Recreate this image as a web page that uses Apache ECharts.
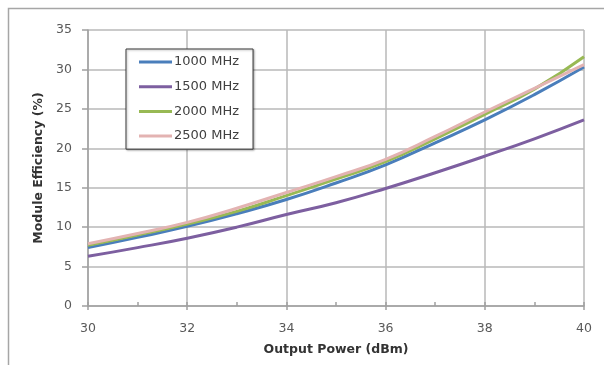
<!DOCTYPE html>
<html><head><meta charset="utf-8">
<script src="https://cdn.jsdelivr.net/npm/echarts@6/dist/echarts.min.js"></script>
<style>html,body{margin:0;padding:0;background:#fff}#c{width:604px;height:365px}</style>
</head><body><div id="c"></div>
<script>
const xValues = [30, 31, 32, 33, 34, 35, 36, 37, 38, 39, 40];
const s1000 = [7.4, 8.7, 10.1, 11.7, 13.5, 15.6, 17.9, 20.7, 23.6, 26.8, 30.3];
const s1500 = [6.3, 7.4, 8.6, 10.0, 11.6, 13.1, 14.9, 16.9, 19.0, 21.2, 23.6];
const s2000 = [7.7, 9.0, 10.4, 12.0, 14.0, 16.1, 18.3, 21.2, 24.3, 27.5, 31.6];
const s2500 = [7.9, 9.2, 10.6, 12.4, 14.4, 16.4, 18.6, 21.5, 24.6, 27.6, 30.6];
const seriesNames = ['1000 MHz', '1500 MHz', '2000 MHz', '2500 MHz'];
const seriesColors = ['#4a7ebb', '#7d5fa0', '#98b954', '#e3b3b2'];
const seriesData = [s1000, s1500, s2000, s2500];
const xTitle = 'Output Power (dBm)';
const yTitle = 'Module Efficiency (%)';

const font = 'DejaVu Sans';
const chart = echarts.init(document.getElementById('c'), null, {renderer: 'canvas'});
chart.setOption({
  animation: false,
  backgroundColor: '#fff',
  textStyle: {fontFamily: font},
  graphic: [{
    type: 'rect', shape: {x: 8.5, y: 8.5, width: 620, height: 380},
    style: {fill: 'none', stroke: '#a6a6a6', lineWidth: 1.5}, z: -10
  }],
  grid: {left: 88, right: 20, top: 30, bottom: 59, containLabel: false},
  legend: {
    left: 126, top: 49, orient: 'vertical',
    padding: [6.5, 14, 6.5, 13],
    backgroundColor: '#fff',
    borderColor: '#3a3a3a', borderWidth: 1,
    shadowColor: 'rgba(0,0,0,0.3)', shadowBlur: 2, shadowOffsetX: 1, shadowOffsetY: 1,
    itemWidth: 33, itemHeight: 3, itemGap: 11.7,
    icon: 'rect',
    textStyle: {fontFamily: font, fontSize: 13, color: '#404040', padding: [0, 0, 0, -3]},
    data: seriesNames
  },
  xAxis: [{
    type: 'value', min: 30, max: 40, interval: 2,
    name: xTitle, nameLocation: 'middle', nameGap: 37,
    nameTextStyle: {fontFamily: font, fontSize: 12.5, fontWeight: 'bold', color: '#333'},
    axisLine: {lineStyle: {color: '#a0a0a0', width: 1.5}},
    axisTick: {show: true, length: 4, lineStyle: {color: '#a0a0a0', width: 1.5}},
    axisLabel: {fontFamily: font, fontSize: 12.5, color: '#595959', margin: 16},
    splitLine: {show: true, lineStyle: {color: '#b8b8b8', width: 1.5}}
  }, {
    type: 'value', min: 30, max: 40, interval: 1, position: 'bottom',
    axisLine: {show: false},
    axisTick: {show: true, inside: true, length: 4, lineStyle: {color: '#a0a0a0', width: 1.5}},
    axisLabel: {show: false},
    splitLine: {show: false}
  }],
  yAxis: {
    type: 'value', min: 0, max: 35, interval: 5,
    name: yTitle, nameLocation: 'middle', nameGap: 41, nameRotate: 90,
    nameTextStyle: {fontFamily: font, fontSize: 12.5, fontWeight: 'bold', color: '#333'},
    axisLine: {show: true, lineStyle: {color: '#a0a0a0', width: 1.5}},
    axisTick: {show: true, length: 6, lineStyle: {color: '#a0a0a0', width: 1.5}},
    axisLabel: {fontFamily: font, fontSize: 12.5, color: '#595959', margin: 16},
    splitLine: {show: true, lineStyle: {color: '#b8b8b8', width: 1.5}}
  },
  series: seriesNames.map((n, i) => ({
    name: n, type: 'line', smooth: true, showSymbol: false, symbol: 'none',
    xAxisIndex: 0,
    color: seriesColors[i],
    lineStyle: {width: 3, color: seriesColors[i]},
    data: xValues.map((x, j) => [x, seriesData[i][j]])
  }))
});
</script></body></html>
